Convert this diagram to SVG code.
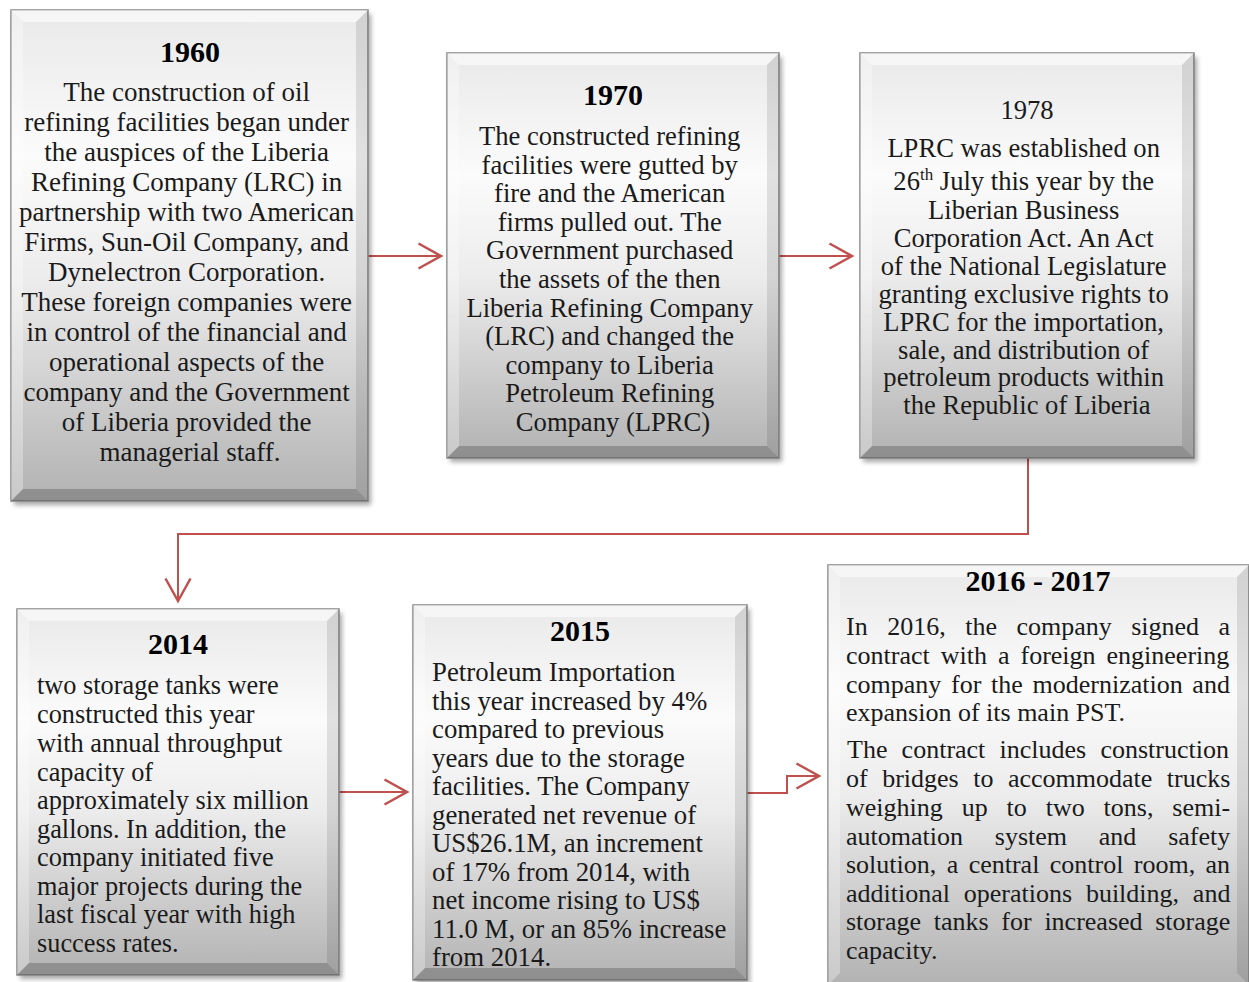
<svg xmlns="http://www.w3.org/2000/svg" width="1249" height="982" viewBox="0 0 1249 982">
<defs>
<linearGradient id="g" x1="0" y1="0" x2="0" y2="1">
<stop offset="0" stop-color="#e9e9e9"/>
<stop offset="0.3" stop-color="#fbfbfb"/>
<stop offset="0.55" stop-color="#ececec"/>
<stop offset="1" stop-color="#b2b2b2"/>
</linearGradient>
<filter id="sh" x="-5%" y="-5%" width="115%" height="115%">
<feGaussianBlur stdDeviation="2.5"/>
</filter>
<marker id="ah" markerUnits="userSpaceOnUse" markerWidth="30" markerHeight="30" refX="0" refY="0" viewBox="-20 -12 22 24" orient="auto" overflow="visible">
<path d="M-18,-10 L0,0 L-18,10" fill="none" stroke="#c0504d" stroke-width="2"/>
</marker>
</defs>
<style>
.sh{fill:#000;opacity:0.35;filter:url(#sh)}
.fr{fill:url(#g);stroke:#858585;stroke-width:1.5}
.bt{fill:#fff;opacity:0.55}
.bl{fill:#fff;opacity:0.3}
.br{fill:#000;opacity:0.1}
.bb{fill:#000;opacity:0.2}
text{font-family:"Liberation Serif","Times New Roman",serif;fill:#1a1a1a}
.t{font-size:30px;font-weight:bold;text-anchor:middle;fill:#000}
.b{font-size:26.6px}
.j{font-size:26px}
.c{text-anchor:middle}
.cn{fill:none;stroke:#c0504d;stroke-width:2}
</style>
<rect width="1249" height="982" fill="#fff"/>

<g id="connectors">
<path class="cn" d="M368,256 H441" marker-end="url(#ah)"/>
<path class="cn" d="M779,256 H852" marker-end="url(#ah)"/>
<path class="cn" d="M1028,458 V534 H178 V601" marker-end="url(#ah)"/>
<path class="cn" d="M339,792 H407" marker-end="url(#ah)"/>
<path class="cn" d="M747,793 H787 V776 H819" marker-end="url(#ah)"/>
</g>

<g id="node-1960">
<rect class="sh" x="14" y="14" width="357" height="491"/>
<rect class="fr" x="11" y="10" width="357" height="491"/>
<polygon class="bt" points="11,10 368,10 356,22 23,22"/>
<polygon class="bl" points="11,10 23,22 23,489 11,501"/>
<polygon class="br" points="368,10 368,501 356,489 356,22"/>
<polygon class="bb" points="11,501 368,501 356,489 23,489"/>
<text class="t" x="190" y="62">1960</text>
<text class="b c" style="font-size:27px">
<tspan x="190" y="101">The construction of oil</tspan>
<tspan x="190" y="131">refining facilities began under</tspan>
<tspan x="190" y="161">the auspices of the Liberia</tspan>
<tspan x="190" y="191">Refining Company (LRC) in</tspan>
<tspan x="190" y="221">partnership with two American</tspan>
<tspan x="190" y="251">Firms, Sun-Oil Company, and</tspan>
<tspan x="190" y="281">Dynelectron Corporation.</tspan>
<tspan x="190" y="311">These foreign companies were</tspan>
<tspan x="190" y="341">in control of the financial and</tspan>
<tspan x="190" y="371">operational aspects of the</tspan>
<tspan x="190" y="401">company and the Government</tspan>
<tspan x="190" y="431">of Liberia provided the</tspan>
<tspan x="190" y="461">managerial staff.</tspan>
</text>
</g>

<g id="node-1970">
<rect class="sh" x="450" y="57" width="332" height="405"/>
<rect class="fr" x="447" y="53" width="332" height="405"/>
<polygon class="bt" points="447,53 779,53 767,65 459,65"/>
<polygon class="bl" points="447,53 459,65 459,446 447,458"/>
<polygon class="br" points="779,53 779,458 767,446 767,65"/>
<polygon class="bb" points="447,458 779,458 767,446 459,446"/>
<text class="t" x="613" y="105">1970</text>
<text class="b c">
<tspan x="613" y="145">The constructed refining</tspan>
<tspan x="613" y="173.6">facilities were gutted by</tspan>
<tspan x="613" y="202.2">fire and the American</tspan>
<tspan x="613" y="230.8">firms pulled out. The</tspan>
<tspan x="613" y="259.4">Government purchased</tspan>
<tspan x="613" y="288">the assets of the then</tspan>
<tspan x="613" y="316.6">Liberia Refining Company</tspan>
<tspan x="613" y="345.2">(LRC) and changed the</tspan>
<tspan x="613" y="373.8">company to Liberia</tspan>
<tspan x="613" y="402.4">Petroleum Refining</tspan>
<tspan x="613" y="431">Company (LPRC)</tspan>
</text>
</g>

<g id="node-1978">
<rect class="sh" x="863" y="57" width="334" height="405"/>
<rect class="fr" x="860" y="53" width="334" height="405"/>
<polygon class="bt" points="860,53 1194,53 1182,65 872,65"/>
<polygon class="bl" points="860,53 872,65 872,446 860,458"/>
<polygon class="br" points="1194,53 1194,458 1182,446 1182,65"/>
<polygon class="bb" points="860,458 1194,458 1182,446 872,446"/>
<text class="b c" x="1027" y="119">1978</text>
<text class="b c">
<tspan x="1027" y="157">LPRC was established on</tspan>
<tspan x="1027" y="190">26<tspan font-size="17" dy="-10">th</tspan><tspan dy="10"> July this year by the</tspan></tspan>
<tspan x="1027" y="219">Liberian Business</tspan>
<tspan x="1027" y="247">Corporation Act. An Act</tspan>
<tspan x="1027" y="275">of the National Legislature</tspan>
<tspan x="1027" y="303">granting exclusive rights to</tspan>
<tspan x="1027" y="331">LPRC for the importation,</tspan>
<tspan x="1027" y="359">sale, and distribution of</tspan>
<tspan x="1027" y="386">petroleum products within</tspan>
<tspan x="1027" y="414">the Republic of Liberia</tspan>
</text>
</g>

<g id="node-2014">
<rect class="sh" x="20" y="613" width="322" height="366"/>
<rect class="fr" x="17" y="609" width="322" height="366"/>
<polygon class="bt" points="17,609 339,609 327,621 29,621"/>
<polygon class="bl" points="17,609 29,621 29,963 17,975"/>
<polygon class="br" points="339,609 339,975 327,963 327,621"/>
<polygon class="bb" points="17,975 339,975 327,963 29,963"/>
<text class="t" x="178" y="654">2014</text>
<text class="b" style="font-size:26.3px">
<tspan x="37" y="694">two storage tanks were</tspan>
<tspan x="37" y="723">constructed this year</tspan>
<tspan x="37" y="752">with annual throughput</tspan>
<tspan x="37" y="781">capacity of</tspan>
<tspan x="37" y="809">approximately six million</tspan>
<tspan x="37" y="838">gallons. In addition, the</tspan>
<tspan x="37" y="866">company initiated five</tspan>
<tspan x="37" y="895">major projects during the</tspan>
<tspan x="37" y="923">last fiscal year with high</tspan>
<tspan x="37" y="952">success rates.</tspan>
</text>
</g>

<g id="node-2015">
<rect class="sh" x="416" y="609" width="334" height="375"/>
<rect class="fr" x="413" y="605" width="334" height="375"/>
<polygon class="bt" points="413,605 747,605 735,617 425,617"/>
<polygon class="bl" points="413,605 425,617 425,968 413,980"/>
<polygon class="br" points="747,605 747,980 735,968 735,617"/>
<polygon class="bb" points="413,980 747,980 735,968 425,968"/>
<text class="t" x="580" y="641">2015</text>
<text class="b" style="font-size:26.8px">
<tspan x="432" y="681">Petroleum Importation</tspan>
<tspan x="432" y="710">this year increased by 4%</tspan>
<tspan x="432" y="738">compared to previous</tspan>
<tspan x="432" y="767">years due to the storage</tspan>
<tspan x="432" y="795">facilities. The Company</tspan>
<tspan x="432" y="824">generated net revenue of</tspan>
<tspan x="432" y="852">US$26.1M, an increment</tspan>
<tspan x="432" y="881">of 17% from 2014, with</tspan>
<tspan x="432" y="909">net income rising to US$</tspan>
<tspan x="432" y="938">11.0 M, or an 85% increase</tspan>
<tspan x="432" y="966">from 2014.</tspan>
</text>
</g>

<g id="node-2016-2017">
<rect class="sh" x="831" y="569" width="421" height="420"/>
<rect class="fr" x="828" y="565" width="421" height="420"/>
<polygon class="bt" points="828,565 1249,565 1237,577 840,577"/>
<polygon class="bl" points="828,565 840,577 840,973 828,985"/>
<polygon class="br" points="1249,565 1249,985 1237,973 1237,577"/>
<text class="t" x="1038" y="591">2016 - 2017</text>
<text class="j" x="846" y="635" style="word-spacing:13px">In 2016, the company signed a</text>
<text class="j" x="846" y="664" style="word-spacing:4.5px">contract with a foreign engineering</text>
<text class="j" x="846" y="693" style="word-spacing:3.2px">company for the modernization and</text>
<text class="j" x="846" y="721">expansion of its main PST.</text>
<text class="j" x="847" y="758" style="word-spacing:7.7px">The contract includes construction</text>
<text class="j" x="846" y="787" style="word-spacing:8px">of bridges to accommodate trucks</text>
<text class="j" x="846" y="816" style="word-spacing:12.4px">weighing up to two tons, semi-</text>
<text class="j" x="846" y="845" style="word-spacing:25.3px">automation system and safety</text>
<text class="j" x="846" y="873" style="word-spacing:3.9px">solution, a central control room, an</text>
<text class="j" x="846" y="902" style="word-spacing:7.3px">additional operations building, and</text>
<text class="j" x="846" y="930" style="word-spacing:6.2px">storage tanks for increased storage</text>
<text class="j" x="846" y="959">capacity.</text>
</g>
</svg>
